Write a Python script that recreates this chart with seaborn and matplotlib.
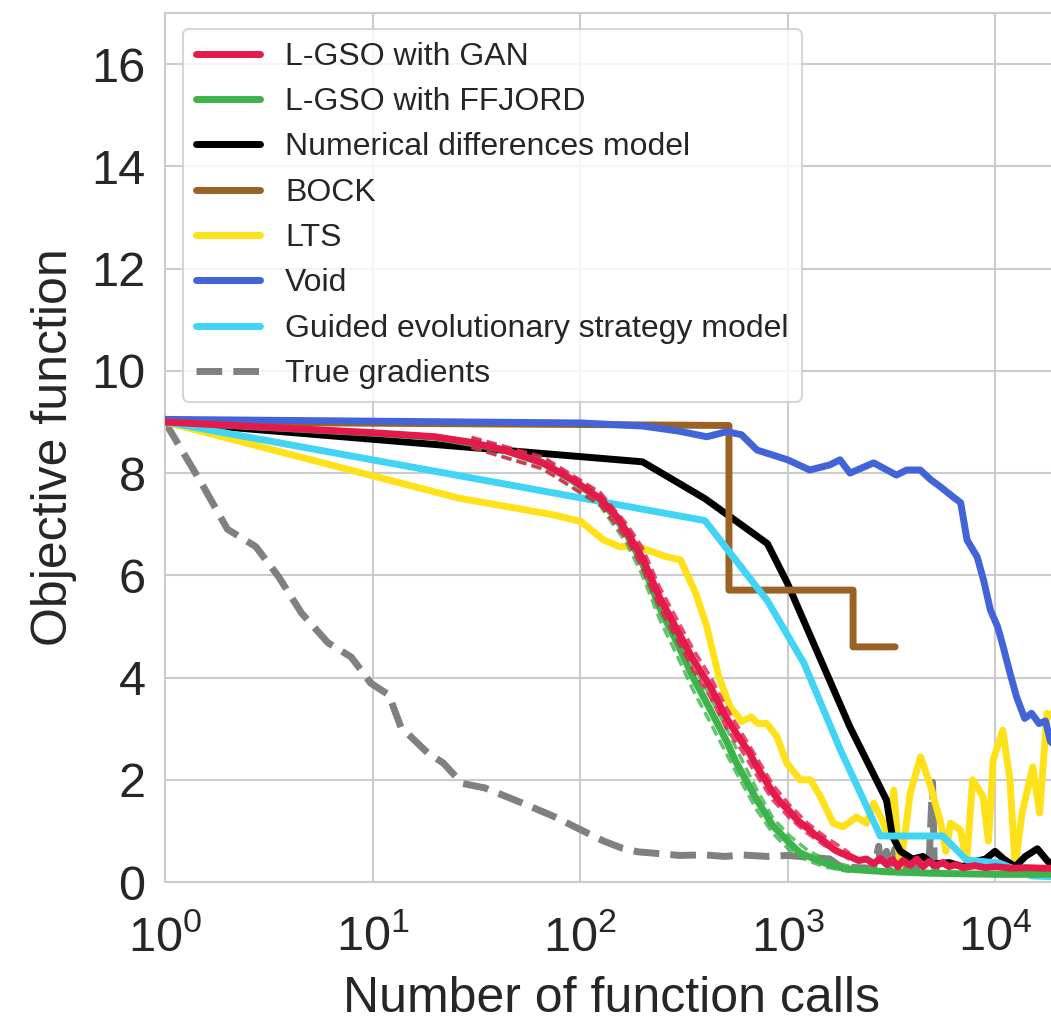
import numpy as np
import pandas as pd
import matplotlib
matplotlib.use("Agg")
import matplotlib.pyplot as plt
import seaborn as sns

# ---------------- data ----------------
gan_x = [1, 10, 20, 30, 43, 66, 92, 125, 150, 168, 199, 243, 292, 351, 427, 509, 600, 650, 713, 780, 850, 930,
         1025, 1120, 1250, 1360, 1480, 1600, 1700, 1850, 2000, 2200, 2400, 2600, 2800, 3000, 3200, 3400, 3600,
         3900, 4200, 4500, 4800, 5200, 5600, 6000, 6500, 7000, 8000, 9000, 10000, 12000, 14000, 17000, 20000]
gan_y = [9.0, 8.79, 8.71, 8.6, 8.45, 8.2, 7.87, 7.5, 7.15, 6.85, 6.35, 5.55, 4.95, 4.35, 3.8, 3.2, 2.75, 2.55,
         2.25, 2.0, 1.75, 1.55, 1.38, 1.2, 1.05, 0.92, 0.82, 0.7, 0.62, 0.55, 0.5, 0.42, 0.45, 0.36, 0.46, 0.34,
         0.44, 0.3, 0.42, 0.33, 0.45, 0.3, 0.4, 0.32, 0.38, 0.3, 0.34, 0.28, 0.32, 0.28, 0.3, 0.27, 0.28, 0.27,
         0.27]

ffjord_x = [1, 10, 20, 30, 43, 66, 92, 125, 150, 168, 199, 243, 292, 351, 427, 509, 564, 713, 850, 1025, 1150,
            1400, 1700, 2000, 3000, 5000, 10000, 20000]
ffjord_y = [9.0, 8.78, 8.7, 8.58, 8.45, 8.2, 7.85, 7.48, 7.1, 6.8, 6.25, 5.35, 4.7, 4.0, 3.35, 2.75, 2.35, 1.6,
            1.1, 0.76, 0.57, 0.42, 0.3, 0.25, 0.2, 0.17, 0.15, 0.15]

band_x = [30, 66, 125, 168, 199, 243, 292, 351, 427, 509, 600, 713, 850, 1025, 1250, 1500, 2000]
gan_lo = [8.5, 8.08, 7.38, 6.7, 6.15, 5.35, 4.75, 4.15, 3.6, 3.0, 2.58, 2.08, 1.6, 1.25, 0.95, 0.72, 0.44]
gan_hi = [8.7, 8.32, 7.62, 7.0, 6.55, 5.75, 5.15, 4.55, 4.0, 3.4, 2.92, 2.42, 1.9, 1.5, 1.15, 0.9, 0.56]
ffjord_lo = [8.5, 8.1, 7.36, 6.62, 6.02, 5.12, 4.45, 3.75, 3.1, 2.5, 1.95, 1.4, 0.95, 0.62, 0.42, 0.3, 0.2]
ffjord_hi = [8.68, 8.3, 7.6, 6.95, 6.45, 5.6, 4.95, 4.25, 3.6, 3.0, 2.4, 1.8, 1.25, 0.9, 0.62, 0.45, 0.3]

numdiff_x = [1, 200, 400, 800, 1000, 2000, 3000, 3200, 3500, 4000, 4500, 5000, 6000, 7000, 8000, 9000, 10000,
             11000, 12500, 14000, 16000, 18000, 20000]
numdiff_y = [9.0, 8.22, 7.5, 6.62, 5.84, 3.03, 1.6, 0.9, 0.6, 0.45, 0.5, 0.35, 0.38, 0.3, 0.4, 0.45, 0.6, 0.45,
             0.3, 0.5, 0.65, 0.4, 0.3]

bock_x = [1, 100, 522, 522, 2070, 2070, 3300]
bock_y = [9.0, 8.95, 8.93, 5.71, 5.71, 4.6, 4.6]

lts_x = [1, 26, 75, 101, 130, 155, 190, 257, 305, 361, 408, 466, 528, 602, 667, 720, 795, 890, 990, 1150, 1290,
         1440, 1660, 1850, 2150, 2400, 2600, 2860, 3050, 3250, 3480, 3700, 3900, 4380, 4900, 5430, 5800, 6100,
         6800, 7300, 7800, 8750, 9300, 9800, 10900, 11800, 12500, 13500, 15200, 16400, 17800, 20000]
lts_y = [9.0, 7.51, 7.18, 7.05, 6.69, 6.56, 6.56, 6.37, 6.3, 5.65, 5.0, 4.02, 3.43, 3.14, 3.23, 3.1, 3.1, 2.84,
         2.33, 2.0, 2.0, 1.67, 1.15, 1.08, 1.27, 1.15, 1.54, 1.21, 0.9, 1.8, 0.3, 1.0, 1.74, 2.45, 1.86, 1.21,
         0.6, 1.15, 1.02, 0.4, 2.0, 1.67, 0.8, 2.39, 2.97, 2.0, 0.3, 1.35, 2.25, 1.35, 3.3, 3.2]

void_x = [1, 101, 200, 300, 408, 510, 600, 713, 1000, 1280, 1600, 1790, 2000, 2600, 3350, 3750, 4360, 4900,
          5460, 6290, 6830, 7330, 8200, 8800, 9500, 10300, 10950, 11800, 12700, 13900, 15000, 16300, 17500,
          18500, 20000]
void_y = [9.05, 8.98, 8.92, 8.82, 8.71, 8.81, 8.75, 8.45, 8.26, 8.06, 8.16, 8.26, 8.0, 8.2, 7.96, 8.06, 8.06,
          7.87, 7.73, 7.53, 7.42, 6.69, 6.36, 5.91, 5.32, 4.99, 4.6, 4.09, 3.62, 3.2, 3.3, 3.1, 3.15, 2.75, 2.6]

ges_x = [1, 400, 800, 1200, 1800, 2800, 5600, 7300, 10500, 15000, 20000]
ges_y = [9.0, 7.07, 5.5, 4.28, 2.58, 0.9, 0.9, 0.43, 0.37, 0.12, 0.1]

true_x = [1, 1.5, 2.0, 2.74, 3.53, 4.55, 6.1, 7.9, 9.8, 12, 13.7, 18.5, 21.9, 27, 34.8, 53, 75, 101, 130, 160,
          190, 250, 300, 400, 500, 600, 800, 1000, 1300, 1600, 1800, 2200, 2600, 2750, 2800, 3000, 3100, 3300,
          3400, 3600, 3700, 4800, 5000, 5100, 6000]
true_y = [9.0, 7.8, 6.9, 6.56, 5.97, 5.26, 4.68, 4.4, 3.89, 3.66, 3.03, 2.52, 2.33, 1.93, 1.84, 1.54, 1.28, 1.02,
          0.8, 0.66, 0.59, 0.55, 0.52, 0.53, 0.5, 0.53, 0.5, 0.52, 0.48, 0.45, 0.3, 0.28, 0.27, 0.7, 0.3, 0.6,
          0.28, 0.65, 0.3, 0.5, 0.3, 0.3, 1.95, 0.28, 0.25]

labels = ["L-GSO with GAN", "L-GSO with FFJORD", "Numerical differences model", "BOCK", "LTS", "Void",
          "Guided evolutionary strategy model", "True gradients"]
colors = ["#e6194B", "#3cb44b", "#000000", "#9A6324", "#ffe119", "#4363d8", "#42d4f4", "#808080"]
yticks = [0, 2, 4, 6, 8, 10, 12, 14, 16]

# ---------------- style ----------------
sns.set_theme(style="whitegrid")
plt.rcParams["font.family"] = ["Liberation Sans", "DejaVu Sans"]
plt.rcParams["mathtext.fontset"] = "custom"
plt.rcParams["mathtext.rm"] = "Liberation Sans"
plt.rcParams["mathtext.it"] = "Liberation Sans:italic"
plt.rcParams["mathtext.bf"] = "Liberation Sans:bold"

fig = plt.figure(figsize=(10.51, 10.23), dpi=100)
ax = fig.add_axes([165 / 1051, 141 / 1023, 892.5 / 1051, 869 / 1023])
ax.set_xscale("log")

LW = 5
series = {
    "L-GSO with GAN": (gan_x, gan_y),
    "L-GSO with FFJORD": (ffjord_x, ffjord_y),
    "Numerical differences model": (numdiff_x, numdiff_y),
    "BOCK": (bock_x, bock_y),
    "LTS": (lts_x, lts_y),
    "Void": (void_x, void_y),
    "Guided evolutionary strategy model": (ges_x, ges_y),
    "True gradients": (true_x, true_y),
}
zorders = {"True gradients": 2, "LTS": 3, "Numerical differences model": 4, "BOCK": 5,
           "Guided evolutionary strategy model": 6, "Void": 7, "L-GSO with FFJORD": 8, "L-GSO with GAN": 10}

handles = {}
for lab, col in zip(labels, colors):
    xs, ys = series[lab]
    df = pd.DataFrame({"x": xs, "y": ys})
    kw = dict(color=col, lw=LW, zorder=zorders[lab], solid_capstyle="round")
    if lab == "True gradients":
        kw["linestyle"] = "--"
    sns.lineplot(data=df, x="x", y="y", ax=ax, estimator=None, sort=False, **kw)
    handles[lab] = ax.lines[-1]

# dashed spread lines around the L-GSO curves
for lo, hi, col, z in [(ffjord_lo, ffjord_hi, colors[1], 8.5), (gan_lo, gan_hi, colors[0], 10.5)]:
    for arr in (lo, hi):
        d = pd.DataFrame({"x": band_x, "y": arr})
        sns.lineplot(data=d, x="x", y="y", ax=ax, estimator=None, sort=False, color=col, lw=2.5,
                     linestyle=(0, (3, 1.5)), alpha=0.8, zorder=z)

ax.set_xlim(1, 2e4)
ax.set_ylim(0, 17)
ax.set_yticks(yticks)
ax.grid(True, which="major", color="#cccccc", lw=1.5)
ax.grid(False, which="minor")
for s in ax.spines.values():
    s.set_color("#cccccc")
    s.set_linewidth(1.5)

ax.tick_params(axis="both", which="major", labelsize=35, colors="#262626", length=0)
ax.tick_params(axis="y", pad=14)
ax.tick_params(axis="x", pad=24)
ax.tick_params(which="minor", length=0)

ax.set_xlabel("Number of function calls", fontsize=36, color="#262626")
ax.set_ylabel("Objective function", fontsize=36, color="#262626")
ax.xaxis.set_label_coords(0.5, -0.108)
ax.yaxis.set_label_coords(-0.099, 0.5)

leg = ax.legend([handles[l] for l in labels], labels, loc="upper left",
                bbox_to_anchor=(0.0202, 0.9816), borderaxespad=0, fontsize=23,
                frameon=True, framealpha=0.8, edgecolor="#cccccc", fancybox=True,
                labelspacing=0.48, handlelength=2.0, handletextpad=0.8, borderpad=0.4)
leg.get_frame().set_linewidth(1.5)
for t in leg.get_texts():
    t.set_color("#262626")
for h in leg.get_lines():
    h.set_linewidth(LW)

fig.savefig("out.png", dpi=100)
